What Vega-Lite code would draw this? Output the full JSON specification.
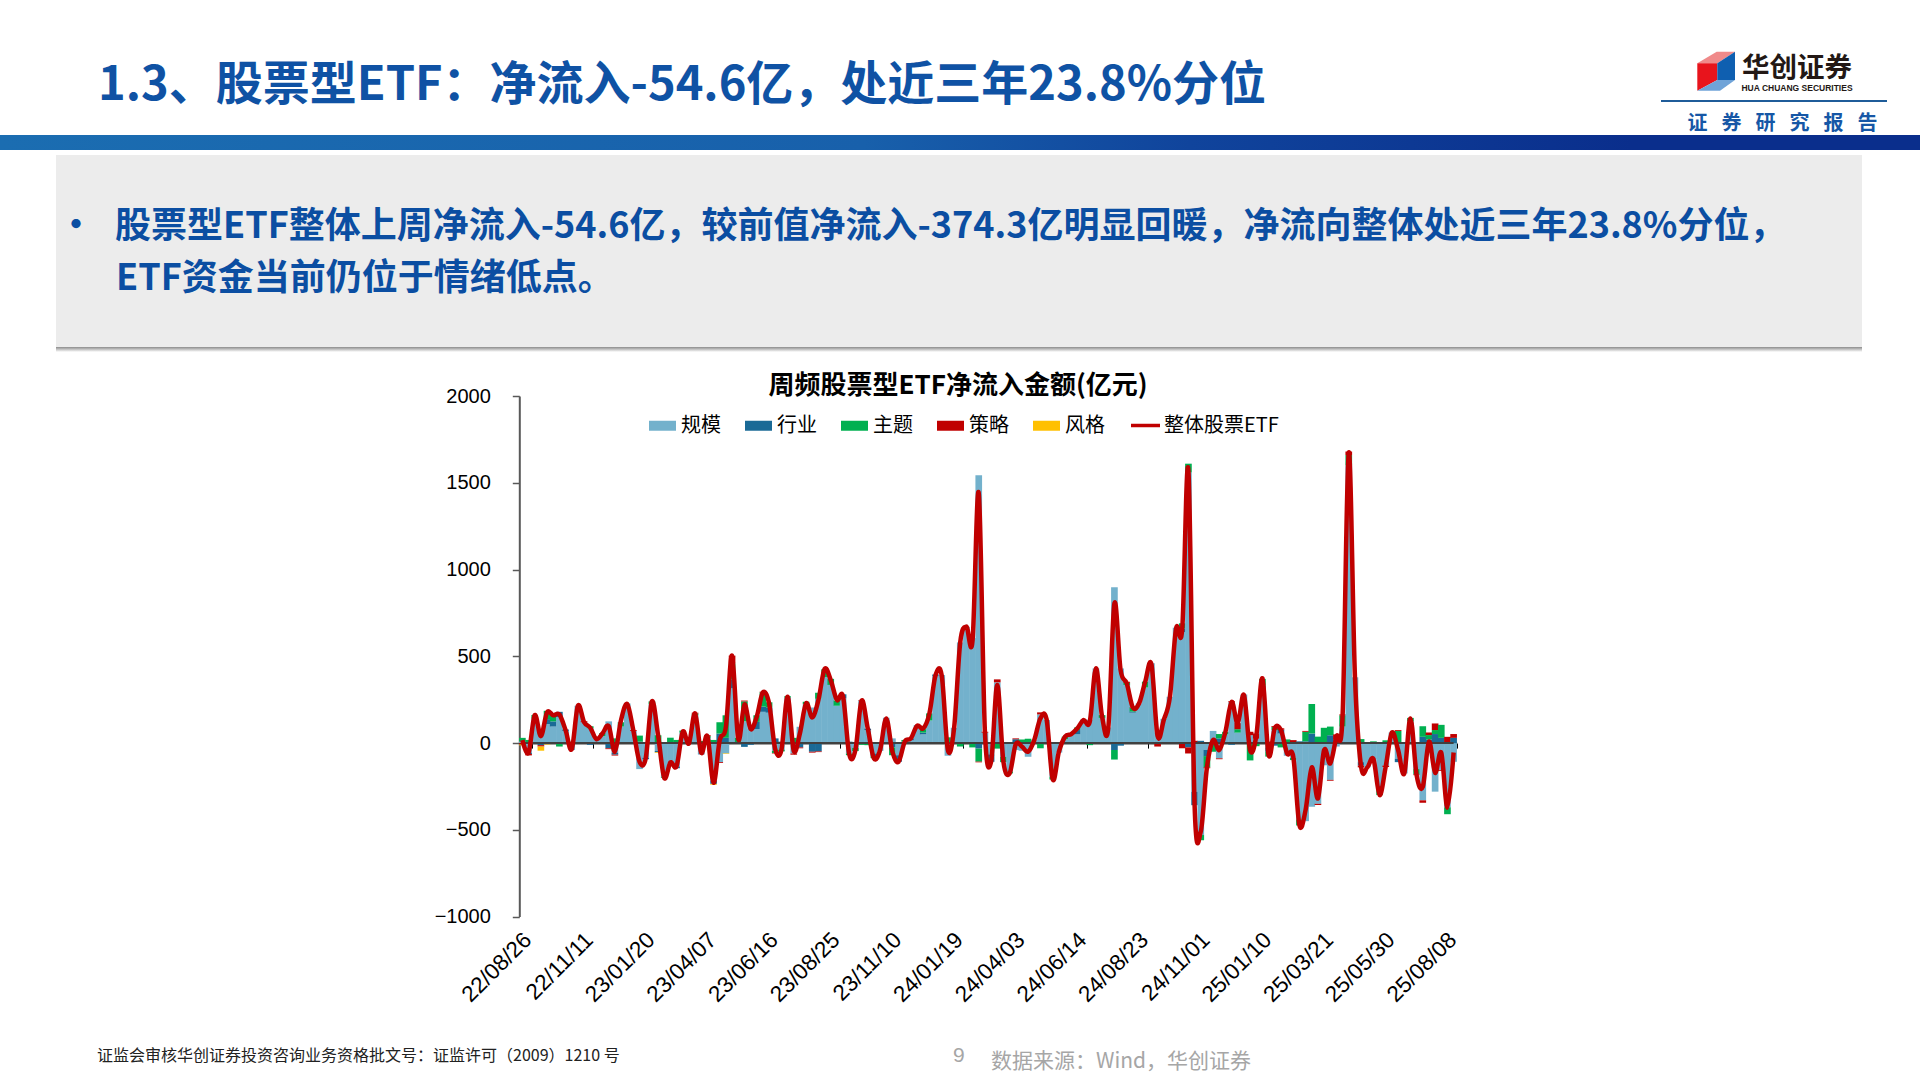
{
"$schema":"https://vega.github.io/schema/vega-lite/v6.json",
"padding":0,
"background":"#FFFFFF",
"spacing":0,
"bounds":"flush",
"data":{"values":[{}]},
"config":{"view":{"stroke":null},"font":"Noto Sans CJK SC","concat":{"spacing":0}},
"datasets":{
"series":[
{"key":"scale","label":"规模","order":1},
{"key":"sector","label":"行业","order":2},
{"key":"theme","label":"主题","order":3},
{"key":"strategy","label":"策略","order":4},
{"key":"style","label":"风格","order":5}
],
"weekly":[
{"date":"22/08/19","scale":10,"sector":0,"theme":20,"strategy":-8,"style":-5,"net":17},
{"date":"22/08/26","scale":-55,"sector":-8,"theme":18,"strategy":-8,"style":0,"net":-56},
{"date":"22/09/02","scale":140,"sector":0,"theme":22,"strategy":0,"style":0,"net":161},
{"date":"22/09/09","scale":50,"sector":-12,"theme":22,"strategy":-8,"style":-24,"net":40},
{"date":"22/09/16","scale":110,"sector":28,"theme":48,"strategy":0,"style":-8,"net":177},
{"date":"22/09/23","scale":95,"sector":30,"theme":45,"strategy":0,"style":0,"net":160},
{"date":"22/09/30","scale":150,"sector":30,"theme":-20,"strategy":0,"style":0,"net":165},
{"date":"22/10/14","scale":70,"sector":8,"theme":0,"strategy":0,"style":0,"net":75},
{"date":"22/10/21","scale":-40,"sector":0,"theme":8,"strategy":0,"style":0,"net":-35},
{"date":"22/10/28","scale":215,"sector":0,"theme":0,"strategy":0,"style":0,"net":215},
{"date":"22/11/04","scale":120,"sector":0,"theme":-5,"strategy":6,"style":0,"net":121},
{"date":"22/11/11","scale":85,"sector":-10,"theme":12,"strategy":0,"style":0,"net":88},
{"date":"22/11/18","scale":25,"sector":-5,"theme":0,"strategy":0,"style":0,"net":23},
{"date":"22/11/25","scale":40,"sector":0,"theme":18,"strategy":0,"style":0,"net":56},
{"date":"22/12/02","scale":125,"sector":-30,"theme":0,"strategy":-5,"style":0,"net":98},
{"date":"22/12/09","scale":-55,"sector":-12,"theme":27,"strategy":-5,"style":0,"net":-50},
{"date":"22/12/16","scale":95,"sector":0,"theme":25,"strategy":0,"style":0,"net":133},
{"date":"22/12/23","scale":228,"sector":0,"theme":0,"strategy":0,"style":0,"net":225},
{"date":"22/12/30","scale":70,"sector":0,"theme":0,"strategy":5,"style":0,"net":71},
{"date":"23/01/06","scale":-150,"sector":8,"theme":35,"strategy":0,"style":0,"net":-108},
{"date":"23/01/13","scale":-85,"sector":-8,"theme":5,"strategy":0,"style":0,"net":-88},
{"date":"23/01/20","scale":225,"sector":0,"theme":15,"strategy":0,"style":-5,"net":240},
{"date":"23/02/03","scale":-45,"sector":-8,"theme":45,"strategy":0,"style":-4,"net":46},
{"date":"23/02/10","scale":-195,"sector":0,"theme":-5,"strategy":0,"style":0,"net":-200},
{"date":"23/02/17","scale":-130,"sector":6,"theme":25,"strategy":0,"style":0,"net":-112},
{"date":"23/02/24","scale":-135,"sector":-10,"theme":18,"strategy":0,"style":0,"net":-133},
{"date":"23/03/03","scale":60,"sector":0,"theme":12,"strategy":0,"style":0,"net":65},
{"date":"23/03/10","scale":5,"sector":0,"theme":10,"strategy":-5,"style":0,"net":-2},
{"date":"23/03/17","scale":160,"sector":0,"theme":10,"strategy":5,"style":0,"net":171},
{"date":"23/03/24","scale":-60,"sector":-5,"theme":12,"strategy":0,"style":0,"net":-56},
{"date":"23/03/31","scale":30,"sector":0,"theme":10,"strategy":5,"style":0,"net":40},
{"date":"23/04/07","scale":-215,"sector":-20,"theme":18,"strategy":0,"style":-5,"net":-229},
{"date":"23/04/14","scale":-110,"sector":55,"theme":65,"strategy":-5,"style":0,"net":17},
{"date":"23/04/21","scale":-60,"sector":30,"theme":130,"strategy":0,"style":-3,"net":94},
{"date":"23/04/28","scale":315,"sector":52,"theme":92,"strategy":45,"style":0,"net":504},
{"date":"23/05/05","scale":5,"sector":0,"theme":25,"strategy":0,"style":0,"net":23},
{"date":"23/05/12","scale":125,"sector":-22,"theme":115,"strategy":5,"style":0,"net":223},
{"date":"23/05/19","scale":85,"sector":-10,"theme":0,"strategy":0,"style":0,"net":81},
{"date":"23/05/26","scale":80,"sector":42,"theme":38,"strategy":0,"style":0,"net":152},
{"date":"23/06/02","scale":180,"sector":30,"theme":82,"strategy":4,"style":0,"net":292},
{"date":"23/06/09","scale":175,"sector":30,"theme":30,"strategy":0,"style":0,"net":229},
{"date":"23/06/16","scale":-45,"sector":27,"theme":-12,"strategy":-3,"style":0,"net":-35},
{"date":"23/06/21","scale":-38,"sector":8,"theme":-10,"strategy":0,"style":0,"net":-40},
{"date":"23/06/30","scale":262,"sector":0,"theme":8,"strategy":0,"style":0,"net":267},
{"date":"23/07/07","scale":-60,"sector":0,"theme":30,"strategy":-7,"style":0,"net":-44},
{"date":"23/07/14","scale":94,"sector":-25,"theme":0,"strategy":-5,"style":0,"net":56},
{"date":"23/07/21","scale":225,"sector":0,"theme":13,"strategy":0,"style":0,"net":229},
{"date":"23/07/28","scale":205,"sector":-50,"theme":0,"strategy":-5,"style":0,"net":148},
{"date":"23/08/04","scale":255,"sector":-48,"theme":35,"strategy":-4,"style":0,"net":248},
{"date":"23/08/11","scale":380,"sector":0,"theme":45,"strategy":0,"style":0,"net":427},
{"date":"23/08/18","scale":335,"sector":0,"theme":35,"strategy":0,"style":0,"net":363},
{"date":"23/08/25","scale":215,"sector":0,"theme":30,"strategy":0,"style":0,"net":248},
{"date":"23/09/01","scale":258,"sector":23,"theme":0,"strategy":0,"style":0,"net":267},
{"date":"23/09/08","scale":-60,"sector":8,"theme":-10,"strategy":0,"style":0,"net":-65},
{"date":"23/09/15","scale":-28,"sector":0,"theme":-18,"strategy":0,"style":0,"net":-40},
{"date":"23/09/22","scale":245,"sector":0,"theme":-10,"strategy":3,"style":0,"net":244},
{"date":"23/09/28","scale":75,"sector":8,"theme":-12,"strategy":0,"style":0,"net":85},
{"date":"23/10/13","scale":-60,"sector":-15,"theme":-12,"strategy":0,"style":0,"net":-88},
{"date":"23/10/20","scale":-45,"sector":0,"theme":4,"strategy":0,"style":0,"net":-40},
{"date":"23/10/27","scale":146,"sector":0,"theme":0,"strategy":0,"style":0,"net":142},
{"date":"23/11/03","scale":27,"sector":-25,"theme":-45,"strategy":0,"style":0,"net":-50},
{"date":"23/11/10","scale":-70,"sector":-38,"theme":0,"strategy":0,"style":0,"net":-108},
{"date":"23/11/17","scale":8,"sector":0,"theme":10,"strategy":0,"style":0,"net":8},
{"date":"23/11/24","scale":15,"sector":12,"theme":0,"strategy":0,"style":0,"net":27},
{"date":"23/12/01","scale":104,"sector":0,"theme":0,"strategy":0,"style":0,"net":100},
{"date":"23/12/08","scale":50,"sector":10,"theme":20,"strategy":0,"style":0,"net":85},
{"date":"23/12/15","scale":130,"sector":0,"theme":41,"strategy":0,"style":0,"net":171},
{"date":"23/12/22","scale":385,"sector":10,"theme":0,"strategy":0,"style":0,"net":392},
{"date":"23/12/29","scale":392,"sector":0,"theme":0,"strategy":0,"style":0,"net":388},
{"date":"24/01/05","scale":-73,"sector":0,"theme":33,"strategy":0,"style":0,"net":-40},
{"date":"24/01/12","scale":88,"sector":0,"theme":0,"strategy":0,"style":0,"net":85},
{"date":"24/01/19","scale":580,"sector":0,"theme":-20,"strategy":0,"style":0,"net":581},
{"date":"24/01/26","scale":670,"sector":0,"theme":0,"strategy":-4,"style":0,"net":671},
{"date":"24/02/02","scale":605,"sector":0,"theme":-25,"strategy":0,"style":0,"net":594},
{"date":"24/02/08","scale":1544,"sector":-32,"theme":-75,"strategy":-4,"style":0,"net":1440},
{"date":"24/02/23","scale":60,"sector":0,"theme":0,"strategy":5,"style":0,"net":65},
{"date":"24/03/01","scale":-65,"sector":-43,"theme":0,"strategy":0,"style":0,"net":-108},
{"date":"24/03/08","scale":350,"sector":0,"theme":-32,"strategy":17,"style":0,"net":335},
{"date":"24/03/15","scale":-80,"sector":0,"theme":-30,"strategy":5,"style":0,"net":-108},
{"date":"24/03/22","scale":-165,"sector":0,"theme":-10,"strategy":0,"style":0,"net":-175},
{"date":"24/03/29","scale":-40,"sector":22,"theme":0,"strategy":5,"style":0,"net":-6},
{"date":"24/04/03","scale":-44,"sector":0,"theme":21,"strategy":0,"style":0,"net":-21},
{"date":"24/04/12","scale":-79,"sector":0,"theme":25,"strategy":0,"style":0,"net":-50},
{"date":"24/04/19","scale":17,"sector":0,"theme":0,"strategy":0,"style":0,"net":17},
{"date":"24/04/26","scale":165,"sector":0,"theme":-30,"strategy":12,"style":0,"net":142},
{"date":"24/04/30","scale":133,"sector":0,"theme":0,"strategy":0,"style":0,"net":137},
{"date":"24/05/10","scale":-195,"sector":0,"theme":-15,"strategy":0,"style":0,"net":-210},
{"date":"24/05/17","scale":-55,"sector":0,"theme":0,"strategy":0,"style":0,"net":-50},
{"date":"24/05/24","scale":22,"sector":0,"theme":15,"strategy":0,"style":0,"net":37},
{"date":"24/05/31","scale":50,"sector":0,"theme":0,"strategy":0,"style":0,"net":52},
{"date":"24/06/07","scale":50,"sector":25,"theme":15,"strategy":0,"style":0,"net":85},
{"date":"24/06/14","scale":135,"sector":0,"theme":0,"strategy":0,"style":0,"net":133},
{"date":"24/06/21","scale":135,"sector":0,"theme":-12,"strategy":0,"style":0,"net":123},
{"date":"24/06/28","scale":430,"sector":0,"theme":0,"strategy":0,"style":0,"net":431},
{"date":"24/07/05","scale":145,"sector":0,"theme":16,"strategy":0,"style":0,"net":152},
{"date":"24/07/12","scale":90,"sector":0,"theme":0,"strategy":-5,"style":0,"net":85},
{"date":"24/07/19","scale":898,"sector":-40,"theme":-55,"strategy":0,"style":0,"net":806},
{"date":"24/07/26","scale":430,"sector":-15,"theme":0,"strategy":0,"style":0,"net":421},
{"date":"24/08/02","scale":335,"sector":0,"theme":12,"strategy":6,"style":0,"net":344},
{"date":"24/08/09","scale":175,"sector":6,"theme":22,"strategy":3,"style":0,"net":204},
{"date":"24/08/16","scale":229,"sector":0,"theme":0,"strategy":0,"style":0,"net":229},
{"date":"24/08/23","scale":320,"sector":0,"theme":34,"strategy":0,"style":0,"net":354},
{"date":"24/08/30","scale":460,"sector":0,"theme":0,"strategy":0,"style":0,"net":454},
{"date":"24/09/06","scale":60,"sector":0,"theme":0,"strategy":-20,"style":0,"net":40},
{"date":"24/09/13","scale":140,"sector":0,"theme":0,"strategy":-4,"style":0,"net":133},
{"date":"24/09/20","scale":267,"sector":0,"theme":0,"strategy":0,"style":0,"net":267},
{"date":"24/09/27","scale":665,"sector":0,"theme":0,"strategy":0,"style":0,"net":661},
{"date":"24/09/30","scale":640,"sector":20,"theme":30,"strategy":-30,"style":0,"net":661},
{"date":"24/10/11","scale":1560,"sector":-25,"theme":50,"strategy":-35,"style":0,"net":1569},
{"date":"24/10/18","scale":-280,"sector":-78,"theme":0,"strategy":13,"style":0,"net":-358},
{"date":"24/10/25","scale":-530,"sector":13,"theme":-30,"strategy":0,"style":0,"net":-510},
{"date":"24/11/01","scale":-40,"sector":-35,"theme":-65,"strategy":-5,"style":0,"net":-140},
{"date":"24/11/08","scale":70,"sector":0,"theme":-50,"strategy":0,"style":0,"net":17},
{"date":"24/11/15","scale":-88,"sector":27,"theme":25,"strategy":-5,"style":0,"net":-40},
{"date":"24/11/22","scale":50,"sector":0,"theme":15,"strategy":0,"style":0,"net":65},
{"date":"24/11/29","scale":235,"sector":-10,"theme":0,"strategy":6,"style":0,"net":238},
{"date":"24/12/06","scale":60,"sector":0,"theme":20,"strategy":35,"style":0,"net":113},
{"date":"24/12/13","scale":280,"sector":0,"theme":0,"strategy":0,"style":0,"net":277},
{"date":"24/12/20","scale":45,"sector":0,"theme":-100,"strategy":20,"style":0,"net":-40},
{"date":"24/12/27","scale":25,"sector":0,"theme":-18,"strategy":30,"style":0,"net":40},
{"date":"25/01/03","scale":300,"sector":30,"theme":40,"strategy":0,"style":0,"net":373},
{"date":"25/01/10","scale":-25,"sector":-25,"theme":-28,"strategy":8,"style":0,"net":-69},
{"date":"25/01/17","scale":75,"sector":-15,"theme":18,"strategy":5,"style":0,"net":85},
{"date":"25/01/24","scale":55,"sector":22,"theme":-25,"strategy":8,"style":0,"net":75},
{"date":"25/01/27","scale":-73,"sector":0,"theme":21,"strategy":0,"style":0,"net":-60},
{"date":"25/02/07","scale":-85,"sector":0,"theme":-13,"strategy":17,"style":0,"net":-79},
{"date":"25/02/14","scale":-440,"sector":10,"theme":-35,"strategy":0,"style":0,"net":-473},
{"date":"25/02/21","scale":-450,"sector":10,"theme":55,"strategy":5,"style":0,"net":-385},
{"date":"25/02/28","scale":-367,"sector":55,"theme":170,"strategy":0,"style":0,"net":-140},
{"date":"25/03/07","scale":-350,"sector":0,"theme":37,"strategy":-7,"style":0,"net":-319},
{"date":"25/03/14","scale":-128,"sector":0,"theme":88,"strategy":0,"style":0,"net":-40},
{"date":"25/03/21","scale":-212,"sector":45,"theme":50,"strategy":-5,"style":0,"net":-117},
{"date":"25/03/28","scale":-20,"sector":20,"theme":0,"strategy":30,"style":0,"net":37},
{"date":"25/04/03","scale":95,"sector":0,"theme":65,"strategy":5,"style":0,"net":161},
{"date":"25/04/11","scale":1600,"sector":0,"theme":60,"strategy":20,"style":0,"net":1675},
{"date":"25/04/18","scale":379,"sector":0,"theme":0,"strategy":0,"style":0,"net":383},
{"date":"25/04/25","scale":-110,"sector":-20,"theme":23,"strategy":-10,"style":0,"net":-136},
{"date":"25/04/30","scale":-140,"sector":0,"theme":0,"strategy":0,"style":0,"net":-140},
{"date":"25/05/09","scale":-95,"sector":0,"theme":10,"strategy":0,"style":0,"net":-92},
{"date":"25/05/16","scale":-245,"sector":-15,"theme":-40,"strategy":0,"style":0,"net":-300},
{"date":"25/05/23","scale":-130,"sector":0,"theme":16,"strategy":-8,"style":0,"net":-133},
{"date":"25/05/30","scale":61,"sector":0,"theme":0,"strategy":0,"style":0,"net":61},
{"date":"25/06/06","scale":-90,"sector":-20,"theme":70,"strategy":5,"style":0,"net":-40},
{"date":"25/06/13","scale":-175,"sector":0,"theme":0,"strategy":0,"style":0,"net":-175},
{"date":"25/06/20","scale":125,"sector":0,"theme":20,"strategy":0,"style":0,"net":142},
{"date":"25/06/27","scale":-150,"sector":0,"theme":-30,"strategy":-5,"style":0,"net":-185},
{"date":"25/07/04","scale":-330,"sector":36,"theme":61,"strategy":-14,"style":0,"net":-252},
{"date":"25/07/11","scale":-53,"sector":21,"theme":25,"strategy":15,"style":0,"net":8},
{"date":"25/07/18","scale":-280,"sector":52,"theme":23,"strategy":38,"style":0,"net":-171},
{"date":"25/07/25","scale":-155,"sector":30,"theme":75,"strategy":-5,"style":0,"net":-56},
{"date":"25/08/01","scale":-370,"sector":0,"theme":-40,"strategy":36,"style":0,"net":-373},
{"date":"25/08/08","scale":-108,"sector":30,"theme":0,"strategy":22,"style":0,"net":-54.6}
]
},
"vconcat":[
{"width":1920,"height":135,
"title":{"text":"1.3、股票型ETF\uff1a净流入-54.6亿\uff0c处近三年23.8%分位","frame":"group","anchor":"start","dx":98,"dy":147,"fontSize":47,"fontWeight":"bold","color":"#0F52A4","font":"Noto Sans CJK SC","baseline":"alphabetic","offset":0},
"layer":[
{"mark":{"type":"point","filled":true,"opacity":1,"size":4,"color":"#F08A8A","shape":"M737.3,-4.2L756.7,-15.8L775,-15.8L757.3,-4.2Z"}},
{"mark":{"type":"point","filled":true,"opacity":1,"size":4,"color":"#E8141C","shape":"M737.3,-4.2L757.3,-4.2L757.3,12.5L737.3,23.2Z"}},
{"mark":{"type":"point","filled":true,"opacity":1,"size":4,"color":"#0F5FB0","shape":"M757.3,-4.2L775,-15.8L775,12.5L757.3,12.5Z"}},
{"mark":{"type":"point","filled":true,"opacity":1,"size":4,"color":"#6FA3D8","shape":"M737.3,23.2L757.3,12.5L775,12.5L760,23.2Z"}},
{"mark":{"type":"point","filled":true,"opacity":1,"size":4,"color":"#1F5C99","shape":"M701,32.5H927V34.5H701Z"}},
{"mark":{"type":"text","text":"华创证券","fontSize":27.5,"fontWeight":"bold","color":"#231815","dx":837,"dy":1}},
{"mark":{"type":"text","text":"HUA CHUANG SECURITIES","fontSize":8.5,"fontWeight":"bold","color":"#231815","font":"Liberation Sans","dx":837,"dy":20}},
{"mark":{"type":"text","text":"证\u2002\u2009券\u2002\u2009研\u2002\u2009究\u2002\u2009报\u2002\u2009告","fontSize":20,"fontWeight":"bold","color":"#1657A6","dx":822.5,"dy":56.5}}
]},
{"width":1920,"height":15,"mark":{"type":"rect","color":{"gradient":"linear","x1":0,"y1":0,"x2":1,"y2":0,"stops":[{"offset":0,"color":"#1B6DB1"},{"offset":0.45,"color":"#1860AB"},{"offset":0.62,"color":"#10449C"},{"offset":0.85,"color":"#0A2E8C"},{"offset":1,"color":"#0A2E8C"}]}}},
{"width":1920,"height":5,"mark":{"type":"point","opacity":0}},
{"width":1920,"height":192,
"layer":[
{"mark":{"type":"point","filled":true,"opacity":1,"size":4,"color":"#ECECEC","shape":"M-904,-96H902V96H-904Z"}},
{"mark":{"type":"text","text":"•","align":"center","baseline":"alphabetic","fontSize":36,"fontWeight":"bold","color":"#0B4EA2","dx":-884,"dy":-13}},
{"mark":{"type":"text","text":"股票型ETF整体上周净流入-54.6亿\uff0c较前值净流入-374.3亿明显回暖\uff0c净流向整体处近三年23.8%分位\uff0c","align":"left","baseline":"alphabetic","fontSize":36,"fontWeight":"bold","color":"#0B4EA2","dx":-845,"dy":-13}},
{"mark":{"type":"text","text":"ETF资金当前仍位于情绪低点。","align":"left","baseline":"alphabetic","fontSize":36,"fontWeight":"bold","color":"#0B4EA2","dx":-844,"dy":39}}
]},
{"width":1920,"height":5,
"mark":{"type":"point","filled":true,"opacity":1,"size":4,"shape":"M-904,-2.5H902V2.5H-904Z","color":{"gradient":"linear","x1":0,"y1":0,"x2":0,"y2":1,"stops":[{"offset":0,"color":"#8C8C8C"},{"offset":1,"color":"#FFFFFF"}]}}},
{"width":1920,"height":44,"mark":{"type":"point","opacity":0}},
{"width":1920,"height":520.6,
"data":{"name":"weekly"},
"title":{"text":"周频股票型ETF净流入金额(亿元)","frame":"group","anchor":"middle","dx":-2,"dy":15,"offset":2,"fontSize":26,"fontWeight":"bold","color":"#000000","font":"Noto Sans CJK SC"},
"encoding":{
"x":{"field":"date","type":"ordinal","sort":null,"title":null,
"scale":{"paddingInner":0,"paddingOuter":0,"range":[519.3,1456.7]},
"axis":{"values":["22/08/26","22/11/11","23/01/20","23/04/07","23/06/16","23/08/25","23/11/10","24/01/19","24/04/03","24/06/14","24/08/23","24/11/01","25/01/10","25/03/21","25/05/30","25/08/08"],
"offset":-173.5,"domainColor":"#404040","domainWidth":2,"tickColor":"#000000","tickSize":5,"tickWidth":1,"tickOffset":3,"labelOffset":-12,
"labelAngle":-45,"labelFont":"Liberation Sans","labelFontSize":22.5,"labelColor":"#000000","labelPadding":180,"labelOverlap":false,"grid":false}}
},
"layer":[
{"transform":[
{"fold":["scale","sector","theme","strategy","style"],"as":["key","value"]},
{"lookup":"key","from":{"data":{"name":"series"},"key":"key","fields":["label","order"]}}
],
"mark":{"type":"bar","width":{"band":1.08}},
"encoding":{
"y":{"field":"value","type":"quantitative","title":null,"stack":"zero",
"scale":{"domain":[-1000,2000],"nice":false,"zero":false},
"axis":{"values":[-1000,-500,0,500,1000,1500,2000],"format":"d","offset":-519.3,"grid":false,"domainColor":"#595959","domainWidth":2,"tickColor":"#595959","tickWidth":1.5,"tickSize":7,"labelFont":"Liberation Sans","labelFontSize":20,"labelColor":"#000000","labelPadding":22}},
"fill":{"field":"label","type":"nominal","sort":null,
"scale":{"domain":["规模","行业","主题","策略","风格"],"range":["#73B1CC","#1A6A96","#00B050","#C00000","#FFC000"]},
"legend":{"title":null,"orient":"none","direction":"horizontal","columns":5,"legendX":649,"legendY":412,"symbolType":"M-1,-0.37H1V0.37H-1Z","symbolSize":729,"symbolStrokeWidth":0,"labelFont":"Noto Sans CJK SC","labelFontSize":20,"labelColor":"#000000","labelOffset":5,"columnPadding":24}},
"order":{"field":"order","type":"quantitative"}
}},
{"mark":{"type":"line","color":"#404040","strokeWidth":2},"encoding":{"y":{"datum":0}}},
{"mark":{"type":"line","strokeWidth":4.5,"interpolate":"cardinal","tension":0},
"encoding":{
"y":{"field":"net","type":"quantitative"},
"stroke":{"datum":"整体股票ETF","scale":{"range":["#C00000"]},
"legend":{"title":null,"orient":"none","direction":"horizontal","legendX":1129,"legendY":409,"symbolType":"stroke","symbolSize":841,"symbolStrokeWidth":3.5,"labelFont":"Noto Sans CJK SC","labelFontSize":20,"labelColor":"#000000","labelOffset":2}}
}}
]},
{"width":1920,"height":163.4,
"layer":[
{"mark":{"type":"text","text":"证监会审核华创证券投资咨询业务资格批文号\uff1a证监许可\uff082009\uff091210 号","align":"left","baseline":"alphabetic","fontSize":16,"color":"#222222","dx":-863,"dy":62}},
{"mark":{"type":"text","text":"9","align":"left","baseline":"alphabetic","fontSize":21,"color":"#A6A6A6","font":"Liberation Sans","dx":-7,"dy":63}},
{"mark":{"type":"text","text":"数据来源\uff1aWind\uff0c华创证券","align":"left","baseline":"alphabetic","fontSize":21,"color":"#A6A6A6","dx":31,"dy":69}}
]}
]
}
